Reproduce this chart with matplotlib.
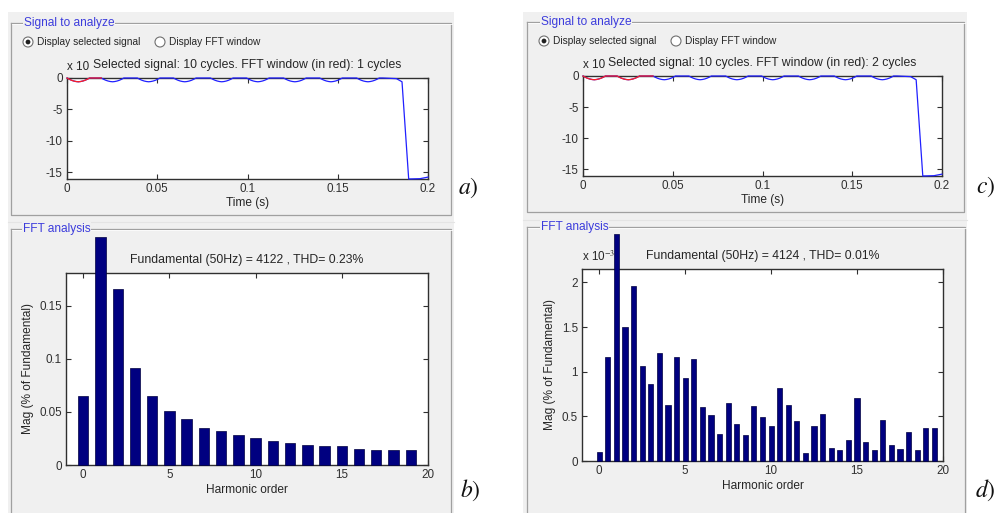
import numpy as np
import matplotlib
matplotlib.use("Agg")
import matplotlib.pyplot as plt
from matplotlib.patches import Rectangle, Circle

plt.rcParams['font.family'] = ['Liberation Sans', 'DejaVu Sans']
plt.rcParams['mathtext.fontset'] = 'stix'

# ---------------- data ----------------
# time-domain signal (units of x10^?) : ripple arcs + final drop
arc_starts = [0.0, 0.019, 0.039, 0.059, 0.0795, 0.0995, 0.12, 0.14, 0.1605]
arc_duration = 0.0125
arc_depth = [0.0, -0.2, -0.36, -0.48, -0.56, -0.6, -0.56, -0.48, -0.36, -0.2, 0.0]
tail_t = [0.175, 0.1825, 0.1856, 0.1893, 0.1955, 0.2]
tail_y = [0.0, -0.1, -0.6, -16.05, -16.0, -15.75]
window_a = 0.02   # 1 cycle FFT window
window_c = 0.04   # 2 cycles FFT window

# FFT spectrum b) (1 cycle window)
harm_b = list(range(20))
mag_b = [0.065, 0.215, 0.166, 0.0915, 0.065, 0.051, 0.043, 0.035, 0.032, 0.028,
         0.0255, 0.023, 0.021, 0.019, 0.0175, 0.0175, 0.0155, 0.0145, 0.014, 0.014]
# FFT spectrum d) (2 cycles window), values in units of 1e-3
harm_d = [i * 0.5 for i in range(40)]
mag_d = [0.097, 1.168, 2.54, 1.50, 1.96, 1.063, 0.858, 1.213, 0.627, 1.168,
         0.929, 1.138, 0.60, 0.515, 0.306, 0.646, 0.41, 0.287, 0.619, 0.493,
         0.392, 0.817, 0.627, 0.451, 0.09, 0.392, 0.526, 0.149, 0.127, 0.231,
         0.70, 0.213, 0.119, 0.463, 0.183, 0.138, 0.325, 0.119, 0.369, 0.369]

time_ticks = [0, 0.05, 0.1, 0.15, 0.2]
time_ticklabels = ['0', '0.05', '0.1', '0.15', '0.2']
sig_ticks = [0, -5, -10, -15]
sig_ticklabels = ['0', '-5', '-10', '-15']
harm_ticks = [0, 5, 10, 15, 20]
harm_ticklabels = ['0', '5', '10', '15', '20']
mag_b_ticks = [0, 0.05, 0.1, 0.15]
mag_b_ticklabels = ['0', '0.05', '0.1', '0.15']
mag_d_ticks = [0, 0.5, 1, 1.5, 2]
mag_d_ticklabels = ['0', '0.5', '1', '1.5', '2']

# build signal points from read values
sig_t, sig_y = [], []
for s in arc_starts:
    for i, d in enumerate(arc_depth):
        sig_t.append(s + i * arc_duration / (len(arc_depth) - 1))
        sig_y.append(d)
sig_t += tail_t
sig_y += tail_y
sig_t = np.array(sig_t)
sig_y = np.array(sig_y)

# ---------------- figure ----------------
W, H = 1004, 513
fig = plt.figure(figsize=(W / 100, H / 100), dpi=100)
bg = fig.add_axes([0, 0, 1, 1])
bg.set_xlim(0, W)
bg.set_ylim(H, 0)
bg.axis('off')

GREY = '#f0f0f0'
EDGE = '#a0a0a0'
BLUE_T = '#3c3cdc'
TXT = '#262626'
TICK_FS = 8.4
LAB_FS = 8.6
TITLE_FS = 8.8

# grey window backgrounds
bg.add_patch(Rectangle((8, 12), 446, 501, facecolor=GREY, edgecolor='none'))
bg.add_patch(Rectangle((523, 12), 444, 501, facecolor=GREY, edgecolor='none'))
# separation between top and bottom screenshots
bg.plot([8, 454], [222, 222], color='#e4e4e4', lw=0.8)
bg.plot([523, 967], [220, 220], color='#e4e4e4', lw=0.8)


def groupbox(x0, y0, x1, y1, title, tx):
    bg.plot([x0, x1, x1, x0, x0], [y0, y0, y1, y1, y0], color=EDGE, lw=0.9)
    bg.plot([x0 + 1, x1 + 1], [y0 + 1, y0 + 1], color='white', lw=0.6)
    bg.text(tx, y0, title, color=BLUE_T, fontsize=8.6, va='center', ha='left',
            bbox=dict(facecolor=GREY, edgecolor='none', pad=0.6))


groupbox(11, 23, 451, 215, 'Signal to analyze', 24)
groupbox(527, 22, 964, 212, 'Signal to analyze', 541)
groupbox(11, 229, 451, 530, 'FFT analysis', 23)
groupbox(527, 227, 965, 530, 'FFT analysis', 541)


def radio(x, y, selected, label):
    bg.add_patch(Circle((x, y), 5, facecolor='white', edgecolor='#707070', lw=0.8))
    if selected:
        bg.add_patch(Circle((x, y), 2.4, facecolor='#202020', edgecolor='none'))
    bg.text(x + 9, y, label, fontsize=7.3, va='center', ha='left', color=TXT)


radio(28, 42, True, 'Display selected signal')
radio(160, 42, False, 'Display FFT window')
radio(544, 41, True, 'Display selected signal')
radio(676, 41, False, 'Display FFT window')

# panel letters
for x, y, s in [(458, 188, 'a'), (460, 490, 'b'), (976, 187, 'c'), (975, 490, 'd')]:
    bg.text(x, y, r'$%s)$' % s, fontsize=17, va='center', ha='left', color='#111111')


def px_axes(l, t, r, b):
    return fig.add_axes([l / W, 1 - b / H, (r - l) / W, (b - t) / H])


def style(ax):
    for sp in ax.spines.values():
        sp.set_color('#303030')
        sp.set_linewidth(1.0)
    ax.tick_params(direction='in', length=3.5, width=0.8, top=True, right=True,
                   labelsize=TICK_FS, colors='#303030', pad=3)
    ax.set_facecolor('white')


def signal_axes(l, t, r, b, window):
    ax = px_axes(l, t, r, b)
    style(ax)
    ax.plot(sig_t, sig_y, color='#2020ff', lw=0.9, clip_on=False, zorder=3)
    m = sig_t <= window + 1e-9
    ax.plot(sig_t[m], sig_y[m], color='#ff2020', lw=0.9, clip_on=False, zorder=4)
    ax.set_xlim(0, 0.2)
    ax.set_ylim(-16.05, 0)
    ax.set_xticks(time_ticks)
    ax.set_xticklabels(time_ticklabels)
    ax.set_yticks(sig_ticks)
    ax.set_yticklabels(sig_ticklabels)
    ax.set_xlabel('Time (s)', fontsize=LAB_FS, color=TXT, labelpad=1)
    n = 1 if window < 0.03 else 2
    ax.set_title('Selected signal: 10 cycles. FFT window (in red): %d cycles' % n,
                 fontsize=TITLE_FS, color=TXT, pad=7)
    ax.text(0.0, 1.05, 'x 10', transform=ax.transAxes, fontsize=TICK_FS, color=TXT,
            ha='left', va='bottom')
    return ax


signal_axes(67, 78, 428, 179, window_a)
signal_axes(583, 76, 942, 176, window_c)


def fft_axes(l, t, r, b, harm, mag, width, ylim, yt, ytl, title):
    ax = px_axes(l, t, r, b)
    style(ax)
    ax.bar(harm, mag, width=width, color='#000080', edgecolor='#000040', lw=0.5,
           clip_on=False, zorder=3)
    ax.set_xlim(-1, 20)
    ax.set_ylim(0, ylim)
    ax.set_xticks(harm_ticks)
    ax.set_xticklabels(harm_ticklabels)
    ax.set_yticks(yt)
    ax.set_yticklabels(ytl)
    ax.set_xlabel('Harmonic order', fontsize=LAB_FS, color=TXT, labelpad=2)
    ax.set_ylabel('Mag (% of Fundamental)', fontsize=LAB_FS, color=TXT, labelpad=4)
    ax.set_title(title, fontsize=TITLE_FS, color=TXT, pad=7)
    return ax


fft_axes(66, 273, 428, 465, harm_b, mag_b, 0.6, 0.181, mag_b_ticks, mag_b_ticklabels,
         'Fundamental (50Hz) = 4122 , THD= 0.23%')
axd = fft_axes(582, 269, 943, 461, harm_d, mag_d, 0.3, 2.15, mag_d_ticks, mag_d_ticklabels,
               'Fundamental (50Hz) = 4124 , THD= 0.01%')
axd.text(0.0, 1.025, r'x 10$^{-3}$', transform=axd.transAxes, fontsize=TICK_FS, color=TXT,
         ha='left', va='bottom')

fig.savefig('out.png', dpi=100)
